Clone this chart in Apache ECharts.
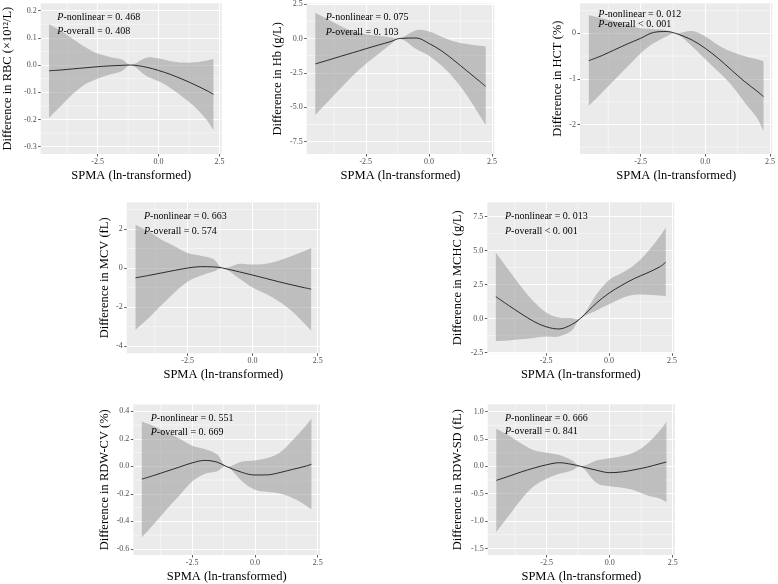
<!DOCTYPE html>
<html><head><meta charset="utf-8">
<script src="https://cdn.jsdelivr.net/npm/echarts@6/dist/echarts.min.js"></script>
<style>html,body{margin:0;padding:0;background:#fff}#c{width:778px;height:584px}</style>
</head><body><div id="c"></div>
<script>
// ---------------- data ----------------
const xs = [-4.5, -4, -3.5, -3, -2.5, -2, -1.5, -1.15, -0.5, 0, 0.5, 1, 1.5, 2, 2.25];
const xTicks = [-2.5, 0, 2.5];
const xMinor = [-3.75, -1.25, 1.25];
const xTitle = 'SPMA (ln-transformed)';

const rbcFit = [-0.021, -0.018, -0.014, -0.010, -0.006, -0.003, -0.001, 0, -0.008, -0.020, -0.035, -0.053, -0.073, -0.095, -0.108];
const rbcLo  = [-0.195, -0.150, -0.105, -0.070, -0.050, -0.035, -0.022, 0, -0.040, -0.060, -0.085, -0.118, -0.155, -0.205, -0.240];
const rbcHi  = [0.150, 0.125, 0.095, 0.065, 0.042, 0.030, 0.020, 0, 0.027, 0.024, 0.014, 0.009, 0.010, 0.017, 0.022];

const hbFit = [-1.85, -1.58, -1.30, -1.03, -0.75, -0.48, -0.22, 0, 0.03, -0.36, -0.90, -1.60, -2.35, -3.10, -3.48];
const hbLo  = [-5.56, -4.60, -3.64, -2.68, -1.85, -1.13, -0.41, 0, -0.77, -1.25, -1.97, -2.92, -4.12, -5.56, -6.28];
const hbHi  = [1.87, 1.39, 0.91, 0.52, 0.31, 0.19, 0.07, 0, 0.60, 0.50, 0.12, -0.22, -0.41, -0.53, -0.58];

const hctFit = [-0.60, -0.49, -0.36, -0.23, -0.11, 0.02, 0.04, 0, -0.15, -0.33, -0.55, -0.80, -1.05, -1.27, -1.39];
const hctLo  = [-1.59, -1.31, -1.02, -0.73, -0.44, -0.22, -0.07, 0, -0.29, -0.57, -0.84, -1.13, -1.50, -1.86, -2.15];
const hctHi  = [0.40, 0.33, 0.26, 0.18, 0.11, 0.09, 0.07, 0, 0.05, -0.07, -0.26, -0.40, -0.50, -0.57, -0.61];

const mcvFit = [-0.50, -0.38, -0.25, -0.12, 0.0, 0.07, 0.06, 0, -0.20, -0.36, -0.53, -0.70, -0.86, -1.01, -1.08];
const mcvLo  = [-3.16, -2.56, -1.90, -1.25, -0.70, -0.40, -0.18, 0, -0.55, -1.00, -1.32, -1.70, -2.20, -2.85, -3.20];
const mcvHi  = [2.22, 1.88, 1.45, 1.12, 0.77, 0.63, 0.45, 0, 0.22, 0.18, 0.22, 0.38, 0.62, 0.88, 1.03];

const mchcFit = [1.62, 0.98, 0.37, -0.20, -0.60, -0.76, -0.45, 0, 1.15, 1.88, 2.45, 2.95, 3.35, 3.80, 4.15];
const mchcLo  = [-1.65, -1.60, -1.52, -1.42, -1.32, -1.32, -0.90, 0, 0.60, 1.05, 1.50, 1.75, 1.76, 1.70, 1.65];
const mchcHi  = [4.85, 3.60, 2.37, 1.27, 0.46, 0.08, 0.05, 0, 1.80, 2.85, 3.35, 3.95, 4.85, 6.00, 6.70];

const cvFit = [-0.093, -0.065, -0.035, -0.005, 0.025, 0.043, 0.030, 0, -0.045, -0.063, -0.062, -0.045, -0.022, 0.0, 0.015];
const cvLo  = [-0.515, -0.415, -0.310, -0.210, -0.110, -0.055, -0.035, 0, -0.110, -0.170, -0.185, -0.198, -0.230, -0.280, -0.312];
const cvHi  = [0.325, 0.290, 0.245, 0.200, 0.150, 0.125, 0.085, 0, 0.035, 0.042, 0.060, 0.100, 0.190, 0.290, 0.345];

const sdFit = [-0.256, -0.18, -0.10, -0.03, 0.03, 0.067, 0.037, 0, -0.073, -0.115, -0.10, -0.06, -0.012, 0.05, 0.08];
const sdLo  = [-1.20, -0.90, -0.60, -0.36, -0.225, -0.135, -0.075, 0, -0.31, -0.365, -0.39, -0.44, -0.53, -0.59, -0.65];
const sdHi  = [0.69, 0.565, 0.415, 0.295, 0.25, 0.21, 0.11, 0, 0.11, 0.15, 0.19, 0.265, 0.42, 0.66, 0.81];

const yTitles = ['Difference in RBC (\u00d710\u00b9\u00b2/L)', 'Difference in Hb (g/L)', 'Difference in HCT (%)',
  'Difference in MCV (fL)', 'Difference in MCHC (g/L)', 'Difference in RDW-CV (%)', 'Difference in RDW-SD (fL)'];
const yTicks = [
  [-0.3, -0.2, -0.1, 0, 0.1, 0.2],
  [-7.5, -5, -2.5, 0, 2.5],
  [-2, -1, 0],
  [-4, -2, 0, 2],
  [-2.5, 0, 2.5, 5, 7.5],
  [-0.6, -0.4, -0.2, 0, 0.2, 0.4],
  [-1.5, -1, -0.5, 0, 0.5, 1]
];
const yMinor = [
  [-0.25, -0.15, -0.05, 0.05, 0.15],
  [-6.25, -3.75, -1.25, 1.25],
  [-2.5, -1.5, -0.5, 0.5],
  [-3, -1, 1, 3],
  [-1.25, 1.25, 3.75, 6.25],
  [-0.5, -0.3, -0.1, 0.1, 0.3],
  [-1.25, -0.75, -0.25, 0.25, 0.75]
];
const pNonlinear = ['= 0. 468', '= 0. 075', '= 0. 012', '= 0. 663', '= 0. 013', '= 0. 551', '= 0. 666'];
const pOverall   = ['= 0. 408', '= 0. 103', '< 0. 001', '= 0. 574', '< 0. 001', '= 0. 669', '= 0. 841'];

const fits = [rbcFit, hbFit, hctFit, mcvFit, mchcFit, cvFit, sdFit];
const los  = [rbcLo, hbLo, hctLo, mcvLo, mchcLo, cvLo, sdLo];
const his  = [rbcHi, hbHi, hctHi, mcvHi, mchcHi, cvHi, sdHi];

// ---------------- layout ----------------
const XMIN = -4.84, XMAX = 2.59;
const layout = [
  {l: 40.7,  t: 3.3,   w: 181,   h: 150.7, ymin: -0.327, ymax: 0.227, dec: 1, gap: 26,   ax: 57.3,  ay1: 17.3,  ay2: 31.7},
  {l: 306.7, t: 3.3,   w: 187.6, h: 150.7, ymin: -8.39,  ymax: 2.53,  dec: 1, gap: 22,   ax: 325.7, ay1: 17.3,  ay2: 32},
  {l: 580,   t: 3.3,   w: 193.3, h: 150.7, ymin: -2.65,  ymax: 0.66,  dec: 0, gap: 15.7, ax: 598.3, ay1: 14,    ay2: 24.3},
  {l: 126.7, t: 202.5, w: 193.3, h: 150.8, ymin: -4.37,  ymax: 3.36,  dec: 0, gap: 15.7, ax: 144,   ay1: 216.7, ay2: 231},
  {l: 487.3, t: 202.3, w: 187,   h: 151,   ymin: -2.55,  ymax: 8.56,  dec: 1, gap: 23,   ax: 505,   ay1: 216.7, ay2: 231},
  {l: 133.3, t: 404.5, w: 186.7, h: 150.5, ymin: -0.644, ymax: 0.449, dec: 1, gap: 22.3, ax: 150.7, ay1: 418.3, ay2: 432.7},
  {l: 487.7, t: 404.3, w: 187.3, h: 150.7, ymin: -1.62,  ymax: 1.135, dec: 1, gap: 23.4, ax: 505,   ay1: 418.3, ay2: 431.7}
];

const FONT = '"Liberation Serif", "Times New Roman", serif';
const SMOOTH = 0.35;
const grids = [], xAxes = [], yAxes = [], series = [], graphics = [];
const fmt = d => v => (v < 0 ? '-' : '') + Math.abs(v).toFixed(d);

layout.forEach((L, i) => {
  grids.push({left: L.l, top: L.t, width: L.w, height: L.h, show: true,
    backgroundColor: '#ebebeb', borderWidth: 0});
  const tickStyle = {color: '#333333', width: 0.8};
  const lbl = {fontFamily: FONT, fontSize: 8, color: '#4d4d4d', margin: 4};
  xAxes.push({gridIndex: i, type: 'value', min: XMIN, max: XMAX, position: 'bottom',
    axisLine: {show: false, onZero: false},
    axisTick: {show: true, customValues: xTicks, length: 2.5, lineStyle: tickStyle},
    axisLabel: Object.assign({customValues: xTicks, formatter: fmt(1)}, lbl),
    splitLine: {show: true, lineStyle: {color: '#ffffff', width: 1}},
    name: xTitle, nameLocation: 'middle', nameGap: 15,
    nameTextStyle: {fontFamily: FONT, fontSize: 12.5, color: '#000'}});
  yAxes.push({gridIndex: i, type: 'value', min: L.ymin, max: L.ymax, position: 'left',
    axisLine: {show: false, onZero: false},
    axisTick: {show: true, customValues: yTicks[i], length: 2.5, lineStyle: tickStyle},
    axisLabel: Object.assign({customValues: yTicks[i], formatter: fmt(L.dec)}, lbl),
    splitLine: {show: true, lineStyle: {color: '#ffffff', width: 1}},
    name: yTitles[i], nameLocation: 'middle', nameGap: L.gap,
    nameTextStyle: {fontFamily: FONT, fontSize: 12.5, color: '#000'}});

  const lo = los[i], hi = his[i], fit = fits[i];
  // minor grid lines (ggplot style), drawn through the axes' own scales
  series.push({type: 'custom', xAxisIndex: i, yAxisIndex: i, data: [0], silent: true, z: 1,
    renderItem: (params, api) => {
      const children = [];
      xMinor.forEach(v => {
        const a = api.coord([v, L.ymin]), b = api.coord([v, L.ymax]);
        children.push({type: 'line', shape: {x1: a[0], y1: a[1], x2: b[0], y2: b[1]},
          style: {stroke: '#ffffff', lineWidth: 0.5}});
      });
      yMinor[i].forEach(v => {
        const a = api.coord([XMIN, v]), b = api.coord([XMAX, v]);
        children.push({type: 'line', shape: {x1: a[0], y1: a[1], x2: b[0], y2: b[1]},
          style: {stroke: '#ffffff', lineWidth: 0.5}});
      });
      return {type: 'group', children: children};
    }});
  // confidence band as one polygon: upper edge then lower edge reversed
  series.push({type: 'custom', xAxisIndex: i, yAxisIndex: i, data: [0], silent: true, z: 2,
    renderItem: (params, api) => {
      const top = xs.map((x, k) => api.coord([x, hi[k]]));
      const bot = xs.map((x, k) => api.coord([x, lo[k]])).reverse();
      const pts = [top[0]].concat(top, [top[top.length - 1]], [bot[0]], bot, [bot[bot.length - 1]]);
      return {type: 'polygon', shape: {points: pts, smooth: SMOOTH},
        style: {fill: 'rgba(153,153,153,0.55)', stroke: null}};
    }});
  series.push({type: 'line', xAxisIndex: i, yAxisIndex: i,
    data: xs.map((x, k) => [x, fit[k]]), symbol: 'none', smooth: SMOOTH, silent: true,
    lineStyle: {color: '#1a1a1a', width: 0.9}, z: 3});

  const rich = {i: {fontStyle: 'italic', fontFamily: FONT, fontSize: 10, fill: '#000'}};
  graphics.push({type: 'text', x: L.ax, y: L.ay1, z: 10, silent: true,
    style: {text: '{i|P}-nonlinear ' + pNonlinear[i], rich: rich, fontFamily: FONT, fontSize: 10,
      fill: '#000', verticalAlign: 'middle', align: 'left'}});
  graphics.push({type: 'text', x: L.ax, y: L.ay2, z: 10, silent: true,
    style: {text: '{i|P}-overall ' + pOverall[i], rich: rich, fontFamily: FONT, fontSize: 10,
      fill: '#000', verticalAlign: 'middle', align: 'left'}});
});

const chart = echarts.init(document.getElementById('c'), null, {renderer: 'canvas'});
chart.setOption({
  animation: false,
  backgroundColor: '#ffffff',
  grid: grids, xAxis: xAxes, yAxis: yAxes, series: series, graphic: graphics
});
</script></body></html>
